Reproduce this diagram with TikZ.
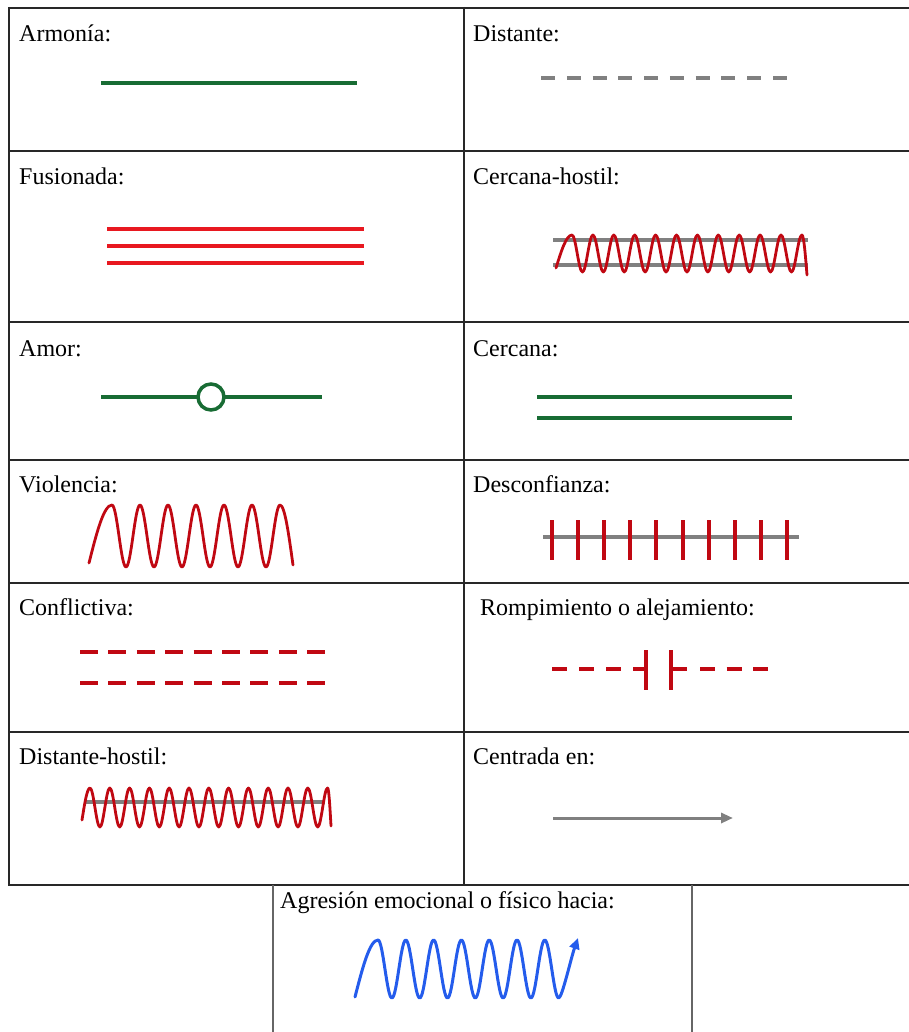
\documentclass[tikz,border=0pt]{standalone}
\usepackage{fontspec}
\setmainfont{Liberation Serif}
\usetikzlibrary{arrows.meta}
\definecolor{relgreen}{RGB}{24,108,52}
\definecolor{relgray}{RGB}{128,128,128}
\definecolor{relred}{RGB}{232,24,32}
\definecolor{reldark}{RGB}{192,8,18}
\definecolor{relblue}{RGB}{36,92,236}
\definecolor{rulegray}{RGB}{40,40,40}
\begin{document}
\begin{tikzpicture}[x=1pt,y=-1pt,
  lbl/.style={anchor=base west, inner sep=0pt, font=\fontsize{24}{28}\selectfont},
  gridline/.style={draw=rulegray, line width=2pt},
  boxline/.style={draw=black!60, line width=1.3pt},
  greenline/.style={draw=relgreen, line width=3.5pt},
  grayline/.style={draw=relgray, line width=3.5pt},
  redline/.style={draw=relred, line width=3.5pt},
  darkline/.style={draw=reldark, line width=3.5pt},
  wave/.style={draw=reldark, line width=2.8pt, line join=round, line cap=round},
  bluewave/.style={draw=relblue, line width=3pt, line join=round, line cap=round},
]
\useasboundingbox (0,0) rectangle (909,1032);

% table rules
\foreach \yy in {8,151,322,460,583,732,885}
  \draw[gridline] (9,\yy) -- (909,\yy);
\draw[gridline] (9,7) -- (9,886);
\draw[gridline] (464,7) -- (464,886);
% lower single cell
\draw[boxline] (273,885) -- (273,1032);
\draw[boxline] (692,885) -- (692,1032);

% labels
\node[lbl] (lArmonia)  at (19,42)  {Armonía:};
\node[lbl] (lDistante) at (473,42) {Distante:};
\node[lbl] (lFusion)   at (19,185) {Fusionada:};
\node[lbl] (lCercH)    at (473,185) {Cercana-hostil:};
\node[lbl] (lAmor)     at (19,356) {Amor:};
\node[lbl] (lCercana)  at (473,356) {Cercana:};
\node[lbl] (lViol)     at (19,492) {Violencia:};
\node[lbl] (lDesc)     at (473,492) {Desconfianza:};
\node[lbl] (lConf)     at (19,615) {Conflictiva:};
\node[lbl] (lRomp)     at (480,615) {Rompimiento o alejamiento:};
\node[lbl] (lDistH)    at (19,764) {Distante-hostil:};
\node[lbl] (lCentr)    at (473,764) {Centrada en:};
\node[lbl] (lAgres)    at (280,908) {Agresión emocional o físico hacia:};

% Armonía
\draw[greenline] (101,83) -- (357,83);
% Distante
\draw[grayline, dash pattern=on 14pt off 11.78pt] (541,78) -- (787,78);

% Fusionada
\foreach \yy in {229,246,263}
  \draw[redline] (107,\yy) -- (364,\yy);

% Cercana-hostil
\draw[grayline] (553,240) -- (808,240);
\draw[grayline] (553,265) -- (808,265);
\draw[wave] (556,268) sin (572,235)
  \foreach \k in {0,...,10}{
    cos ({572+20.9*\k+5.225},253.5) sin ({572+20.9*\k+10.45},272)
    cos ({572+20.9*\k+15.675},253.5) sin ({572+20.9*(\k+1)},235) }
  cos (807,275);

% Amor
\draw[greenline] (101,397) -- (322,397);
\draw[greenline, fill=white] (211,397) circle[radius=13pt];
% Cercana
\draw[greenline] (537,397) -- (792,397);
\draw[greenline] (537,418) -- (792,418);

% Violencia
\draw[wave] (89,563) sin (112,505)
  \foreach \k in {0,...,5}{
    cos ({119+28*\k},536) sin ({126+28*\k},567)
    cos ({133+28*\k},536) sin ({140+28*\k},505) }
  cos (293,565);

% Desconfianza
\draw[grayline] (543,537) -- (799,537);
\foreach \k in {0,...,9}
  \draw[darkline, line width=4pt] ({552+26.1*\k},520) -- ({552+26.1*\k},560);

% Conflictiva
\draw[darkline, dash pattern=on 18pt off 10.4pt] (80,652) -- (325,652);
\draw[darkline, dash pattern=on 18pt off 10.4pt] (80,683) -- (325,683);

% Rompimiento o alejamiento
\draw[darkline, dash pattern=on 15pt off 12pt] (552,669) -- (621,669);
\draw[darkline] (633,669) -- (646,669);
\draw[darkline, line width=4pt] (646,650) -- (646,690);
\draw[darkline, line width=4pt] (671,650) -- (671,690);
\draw[darkline] (671,669) -- (687,669);
\draw[darkline, dash pattern=on 15pt off 11.5pt] (700,669) -- (768,669);

% Distante-hostil
\draw[grayline] (85,802) -- (325,802);
\draw[wave] (82,820) sin (90,788)
  \foreach \k in {0,...,11}{
    cos ({90+19.8*\k+4.95},807.5) sin ({90+19.8*\k+9.9},827)
    cos ({90+19.8*\k+14.85},807.5) sin ({90+19.8*(\k+1)},788) }
  cos (331,826);

% Centrada en
\draw[grayline, line width=3pt, -{Triangle[length=12pt,width=10pt]}] (553,818) -- (733,818);

% Agresión emocional o físico hacia
\draw[bluewave, -{Triangle[length=11pt,width=10pt]}] (355,997) sin (378,940)
  \foreach \k in {0,...,5}{
    cos ({378+27.8*\k+6.95},969) sin ({378+27.8*\k+13.9},998)
    cos ({378+27.8*\k+20.85},969) sin ({378+27.8*(\k+1)},940) }
  cos (551.75,969) sin (558.7,998)
  .. controls (562,998) and (571,958) .. (578,938);
\end{tikzpicture}
\end{document}
